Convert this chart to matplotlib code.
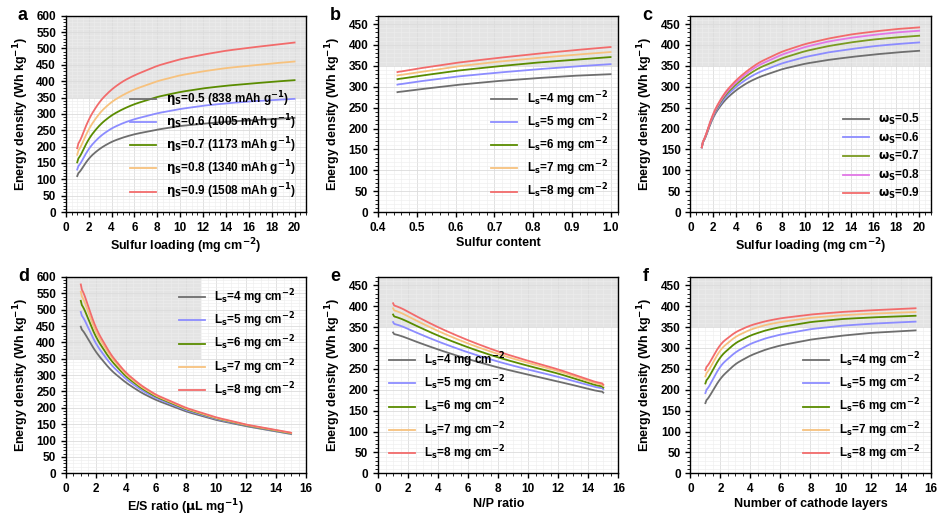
import numpy as np
import matplotlib.pyplot as plt

plt.rcParams['font.family'] = ['Arial', 'Liberation Sans', 'DejaVu Sans']
plt.rcParams['font.weight'] = 'bold'
plt.rcParams['axes.labelweight'] = 'bold'

colors = ['#6e6e6e', '#8c8cff', '#5a8c00', '#f7c27e', '#f26b6b']
colors_c = ['#6e6e6e', '#8c8cff', '#7a9a20', '#e277e6', '#f26b6b']

# panel a
xa = [1, 2, 3, 4, 5, 6, 8, 10, 12, 14, 16, 18, 20]
ya = [[110, 165, 195, 215, 228, 238, 252, 263, 270, 276, 280, 284, 288],
      [130, 195, 232, 256, 272, 284, 302, 315, 325, 332, 338, 342, 346],
      [152, 225, 268, 296, 315, 330, 352, 367, 378, 386, 392, 398, 403],
      [175, 255, 305, 337, 358, 375, 400, 418, 430, 440, 447, 454, 460],
      [195, 285, 340, 375, 400, 418, 447, 467, 481, 493, 502, 510, 518]]
la = [r'$\mathbf{\eta_S}$=0.5 (838 mAh g$^{\mathbf{-1}}$)',
      r'$\mathbf{\eta_S}$=0.6 (1005 mAh g$^{\mathbf{-1}}$)',
      r'$\mathbf{\eta_S}$=0.7 (1173 mAh g$^{\mathbf{-1}}$)',
      r'$\mathbf{\eta_S}$=0.8 (1340 mAh g$^{\mathbf{-1}}$)',
      r'$\mathbf{\eta_S}$=0.9 (1508 mAh g$^{\mathbf{-1}}$)']

# panel b
xb = [0.45, 0.5, 0.6, 0.7, 0.8, 0.9, 1.0]
yb = [[287, 293, 304, 313, 320, 326, 330],
      [305, 312, 324, 333, 341, 348, 354],
      [318, 325, 338, 348, 357, 364, 371],
      [327, 334, 348, 359, 368, 376, 383],
      [335, 343, 357, 368, 378, 387, 395]]
lL = [r'L$_{\mathbf{s}}$=%d mg cm$^{\mathbf{-2}}$' % v for v in [4, 5, 6, 7, 8]]

# panel c
xc = xa
yc = [[155, 230, 268, 292, 310, 323, 342, 355, 364, 371, 377, 382, 386],
      [155, 233, 274, 300, 320, 335, 356, 371, 382, 390, 397, 402, 406],
      [155, 235, 279, 306, 328, 345, 368, 385, 397, 406, 413, 418, 422],
      [155, 237, 283, 311, 334, 352, 377, 395, 408, 417, 424, 430, 434],
      [155, 239, 286, 316, 339, 358, 384, 402, 415, 425, 432, 438, 442]]
lc = [r'$\mathbf{\omega_S}$=%.1f' % v for v in [0.5, 0.6, 0.7, 0.8, 0.9]]

# panel d
xd = [1, 2, 3, 4, 5, 6, 8, 10, 12, 15]
yd = [[448, 370, 315, 277, 247, 224, 189, 163, 144, 120],
      [493, 395, 332, 288, 255, 230, 193, 166, 146, 121],
      [527, 415, 345, 296, 261, 234, 196, 168, 147, 122],
      [555, 430, 355, 302, 265, 237, 198, 169, 148, 123],
      [577, 442, 362, 307, 269, 240, 200, 171, 149, 124]]

# panel e
xe = [1, 2, 4, 6, 8, 10, 12, 15]
ye = [[337, 322, 296, 273, 253, 236, 220, 193],
      [362, 345, 315, 289, 267, 248, 231, 201],
      [380, 362, 329, 301, 277, 257, 239, 205],
      [395, 375, 340, 310, 285, 264, 245, 209],
      [407, 386, 349, 318, 291, 269, 249, 212]]

# panel f
xf = [1, 2, 3, 4, 5, 6, 8, 10, 12, 15]
yf = [[168, 228, 262, 282, 296, 306, 320, 329, 336, 342],
      [192, 258, 290, 310, 323, 332, 345, 353, 358, 363],
      [215, 280, 312, 330, 342, 350, 362, 369, 373, 377],
      [232, 297, 327, 344, 355, 362, 372, 378, 382, 386],
      [247, 310, 338, 354, 364, 371, 380, 386, 390, 395]]


def smooth(x, y, k=9):
    # linear interp, then a light moving average to round the corners
    xs = np.linspace(x[0], x[-1], 200)
    ys = np.interp(xs, x, y)
    ker = np.ones(k) / k
    pad = np.concatenate([np.full(k // 2, ys[0]), ys, np.full(k // 2, ys[-1])])
    ys2 = np.convolve(pad, ker, mode='valid')
    ys2[0], ys2[-1] = ys[0], ys[-1]
    return xs, ys2


def panel(ax, x, ys, labels, cols, xlim, xt, ylim, yt, xlabel, letter, loc, shade_x=None, k=9):
    x0 = xlim[0] if shade_x is None else shade_x[0]
    x1 = xlim[1] if shade_x is None else shade_x[1]
    ax.fill_between([x0, x1], 350, ylim[1], color='#e4e4e4', zorder=0, lw=0)
    for y, lab, c in zip(ys, labels, cols):
        xs, yy = smooth(x, y, k)
        ax.plot(xs, yy, color=c, lw=1.3, label=lab)
    ax.set_xlim(*xlim)
    ax.set_ylim(*ylim)
    ax.set_xticks(xt)
    ax.set_yticks(yt)
    ax.minorticks_on()
    ax.grid(True, which='major', color='#dcdcdc', lw=0.6)
    ax.grid(True, which='minor', color='#ededed', lw=0.4)
    ax.set_axisbelow(True)
    ax.tick_params(labelsize=8.5, width=1)
    for s in ax.spines.values():
        s.set_linewidth(1)
    ax.set_xlabel(xlabel, fontsize=9, labelpad=2)
    ax.set_ylabel(r'Energy density (Wh kg$^{\mathbf{-1}}$)', fontsize=9)
    ax.text(-0.2, 1.0, letter, transform=ax.transAxes, fontsize=13, fontweight='bold', va='center')
    ax.legend(loc=loc, fontsize=8.5, frameon=False, handlelength=2.2, labelspacing=0.3)


fig, axs = plt.subplots(2, 3, figsize=(9.4, 5.23), dpi=100)
panel(axs[0, 0], xa, ya, la, colors, (0, 21), range(0, 21, 2), (0, 600), range(0, 601, 50),
      r'Sulfur loading (mg cm$^{\mathbf{-2}}$)', 'a', 'lower right')
panel(axs[0, 1], xb, yb, lL, colors, (0.4, 1.02), np.arange(0.4, 1.01, 0.1), (0, 470), range(0, 451, 50),
      'Sulfur content', 'b', 'lower right')
axs[0, 1].set_xticklabels(['%.1f' % v for v in np.arange(0.4, 1.01, 0.1)])
panel(axs[0, 2], xc, yc, lc, colors_c, (0, 21), range(0, 21, 2), (0, 470), range(0, 451, 50),
      r'Sulfur loading (mg cm$^{\mathbf{-2}}$)', 'c', 'lower right')
panel(axs[1, 0], xd, yd, lL, colors, (0, 16), range(0, 17, 2), (0, 600), range(0, 601, 50),
      r'E/S ratio ($\mathbf{\mu}$L mg$^{\mathbf{-1}}$)', 'd', 'upper right', shade_x=(0, 9))
panel(axs[1, 1], xe, ye, lL, colors, (0, 16), range(0, 17, 2), (0, 470), range(0, 451, 50),
      'N/P ratio', 'e', 'lower left', k=25)
panel(axs[1, 2], xf, yf, lL, colors, (0, 16), range(0, 17, 2), (0, 470), range(0, 451, 50),
      'Number of cathode layers', 'f', 'lower right')

plt.subplots_adjust(left=0.07, right=0.99, top=0.97, bottom=0.095, wspace=0.3, hspace=0.33)
plt.savefig('out.png', dpi=100)
